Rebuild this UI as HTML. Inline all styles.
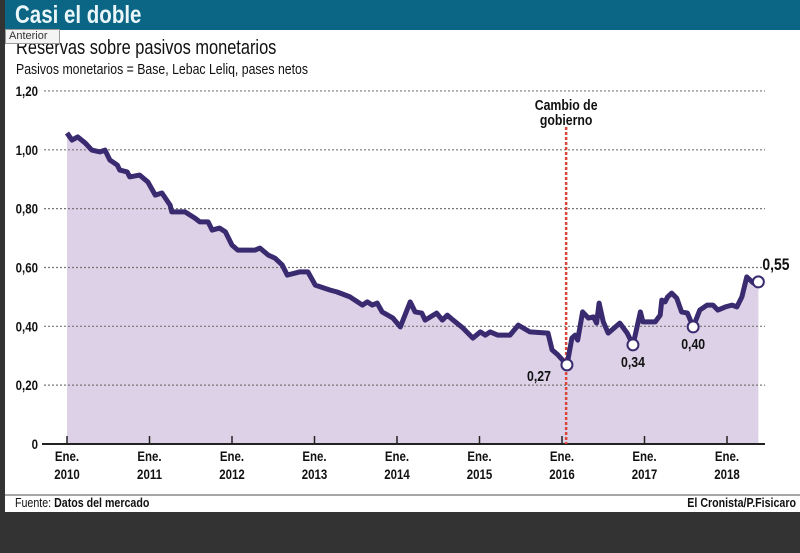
<!DOCTYPE html>
<html><head><meta charset="utf-8"><style>
body{margin:0;width:800px;height:553px;background:#333;overflow:hidden;font-family:"Liberation Sans",sans-serif;}
#wrap{position:absolute;left:5px;top:0;width:795px;height:512px;background:#fff;}
#hdr{position:absolute;left:5px;top:0;width:795px;height:30px;background:#0b6585;}
#hdr span{position:absolute;left:10px;top:0px;color:#eaf6f8;font-weight:bold;font-size:25px;line-height:30px;transform:scaleX(0.82);transform-origin:0 0;white-space:nowrap;}
#tip{position:absolute;left:5px;top:29px;width:50px;height:13px;border:1px solid #999;background:#f4f4f4;font-size:11px;line-height:13px;color:#333;padding-left:3px;font-family:"Liberation Sans",sans-serif;}
svg{position:absolute;left:0;top:0;}
</style></head><body>
<div id="wrap"></div>
<div id="hdr"><span>Casi el doble</span></div>
<svg id="c" width="800" height="553"></svg>
<div id="tip">Anterior</div>
<script>
const years=[0,.06,.13,.22,.30,.40,.46,.52,.61,.64,.73,.76,.88,.98,1.07,1.15,1.25,1.27,1.43,1.55,1.61,1.71,1.76,1.85,1.92,2.0,2.07,2.28,2.34,2.44,2.52,2.61,2.67,2.82,2.92,3.01,3.19,3.27,3.43,3.58,3.64,3.70,3.76,3.82,3.95,4.04,4.16,4.22,4.30,4.34,4.48,4.55,4.61,4.68,4.80,4.92,5.01,5.07,5.13,5.22,5.37,5.47,5.61,5.83,5.88,5.95,6.06,6.12,6.16,6.19,6.25,6.32,6.38,6.42,6.45,6.50,6.56,6.70,6.79,6.86,6.95,6.98,7.13,7.19,7.21,7.25,7.28,7.33,7.39,7.45,7.52,7.59,7.67,7.76,7.83,7.89,7.98,8.06,8.12,8.18,8.24,8.32,8.38];
const values=[1.057,1.033,1.044,1.023,.999,.993,.999,.965,.948,.931,.925,.908,.914,.891,.846,.853,.812,.789,.789,.768,.755,.755,.727,.734,.721,.676,.659,.659,.666,.642,.632,.608,.574,.585,.585,.540,.523,.517,.50,.472,.483,.472,.479,.449,.428,.398,.483,.449,.445,.421,.445,.421,.438,.421,.394,.360,.381,.370,.381,.370,.370,.404,.381,.377,.320,.303,.269,.360,.370,.353,.449,.428,.432,.411,.479,.415,.377,.411,.377,.337,.449,.415,.415,.438,.489,.483,.50,.513,.496,.449,.445,.398,.455,.472,.472,.455,.466,.472,.466,.50,.568,.547,.551];
const yTicks=[0,.2,.4,.6,.8,1.0,1.2];
const yTickLabels=["0","0,20","0,40","0,60","0,80","1,00","1,20"];
const xTickYears=[2010,2011,2012,2013,2014,2015,2016,2017,2018];
const markerIdx=[66,79,91,102];
const markerLabels=["0,27","0,34","0,40","0,55"];
const changeYear=6.05;
const NS="http://www.w3.org/2000/svg";
const svg=document.getElementById('c');
const X=t=>67+t*82.5, Y=v=>444-v*294.2;
function mk(tag,attrs,parent){const e=document.createElementNS(NS,tag);for(const k in attrs)e.setAttribute(k,attrs[k]);(parent||svg).appendChild(e);return e;}
const F='"Liberation Sans",sans-serif';
function txt(x,y,s,size,anchor,weight,fill){const t=mk('text',{x:0,y:0,transform:'translate('+x+','+y+') scale(0.82,1)','font-size':size,'text-anchor':anchor,'font-weight':weight,fill:fill||'#111','font-family':F});t.textContent=s;return t;}
let t;
t=txt(16,54,"Reservas sobre pasivos monetarios",20,'start','normal');


t=txt(16,74,"Pasivos monetarios = Base, Lebac Leliq, pases netos",15,'start','normal');


let d='M'+X(years[0])+','+Y(0);
years.forEach((y,i)=>d+=' L'+X(y).toFixed(1)+','+Y(values[i]).toFixed(1));
d+=' L'+X(years[years.length-1])+','+Y(0)+'Z';
t=mk('path',{d:d,fill:'#dcd1e6'});


yTicks.forEach((v,i)=>{
 if(v>0){const g=mk('line',{x1:44,x2:765,y1:Y(v),y2:Y(v),stroke:'#777','stroke-width':1.2,'stroke-dasharray':'2,2'});
 
 }
 const l=txt(38,Y(v)+5,yTickLabels[i],14,'end','bold');
 
 
});
t=mk('line',{x1:42,x2:765,y1:444,y2:444,stroke:'#222','stroke-width':2});


xTickYears.forEach(yr=>{
 const x=X(yr-2010);
 const k=mk('line',{x1:x,x2:x,y1:436,y2:444,stroke:'#222','stroke-width':1.5});
 
 
 const a=txt(x,461,'Ene.',14,'middle','bold');
 
 
 const b=txt(x,479,String(yr),14,'middle','bold');
 
 
});
t=mk('line',{x1:X(changeYear),x2:X(changeYear),y1:127,y2:444,stroke:'#d9473a','stroke-width':2.5,'stroke-dasharray':'3,2'});


t=txt(X(changeYear),110,'Cambio de',15,'middle','bold');


t=txt(X(changeYear),125,'gobierno',15,'middle','bold');


let p='';years.forEach((y,i)=>p+=(i?' L':'M')+X(y).toFixed(1)+','+Y(values[i]).toFixed(1));
t=mk('path',{d:p,fill:'none',stroke:'#3a2a70','stroke-width':5,'stroke-linejoin':'round'});


const lpos=[[-16,16,'end'],[0,22,'middle'],[0,22,'middle'],[4,-12,'start']];
markerIdx.forEach((idx,i)=>{
 const cx=X(years[idx]),cy=Y(values[idx]);
 const c=mk('circle',{cx:cx,cy:cy,r:5.5,fill:'#fff',stroke:'#3a2a70','stroke-width':2});
 
 
 const l=txt(cx+lpos[i][0],cy+lpos[i][1],markerLabels[i],i==3?17:15,lpos[i][2],'bold');
 
 
});
t=mk('line',{x1:5,x2:800,y1:495,y2:495,stroke:'#888','stroke-width':1.5});


const fs=txt(15,507,'',13,'start','normal');
fs.innerHTML='Fuente: <tspan font-weight="bold">Datos del mercado</tspan>';


t=txt(796,507,'El Cronista/P.Fisicaro',13,'end','bold');


</script>
</body></html>
